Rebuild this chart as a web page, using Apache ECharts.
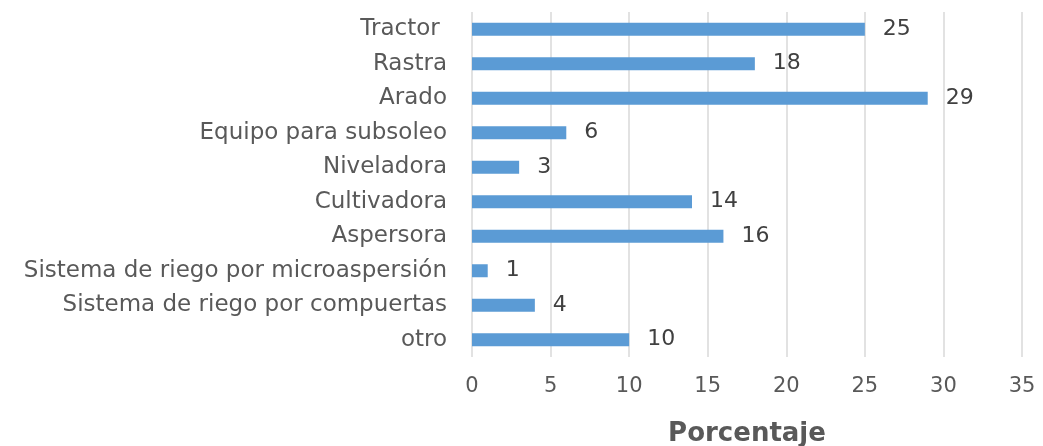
<!DOCTYPE html>
<html>
<head>
    <meta charset="utf-8">
    <title>Porcentaje</title>
    <script src="https://cdn.jsdelivr.net/npm/echarts@6/dist/echarts.min.js"></script>
    <style>
        html, body { margin: 0; padding: 0; background: #fff; }
        #main { width: 1043px; height: 446px; }
    </style>
</head>
<body>
<div id="main"></div>
<script type="text/javascript">
    // categorias (de arriba hacia abajo)
    var categorias = ['Tractor ', 'Rastra', 'Arado', 'Equipo para subsoleo', 'Niveladora',
        'Cultivadora', 'Aspersora', 'Sistema de riego por microaspersión',
        'Sistema de riego por compuertas', 'otro'];
    var porcentaje = [25, 18, 29, 6, 3, 14, 16, 1, 4, 10];
    var ticks = [0, 5, 10, 15, 20, 25, 30, 35];

    var myChart = echarts.init(document.getElementById('main'));
    var fuente = 'DejaVu Sans';

    var option = {
        animation: false,
        grid: {
            left: 472,
            right: 21,
            top: 12,
            bottom: 89,
            outerBoundsMode: 'none'
        },
        xAxis: {
            type: 'value',
            min: ticks[0],
            max: ticks[ticks.length - 1],
            interval: 5,
            name: 'Porcentaje',
            nameLocation: 'middle',
            nameGap: 64,
            nameTextStyle: { fontFamily: fuente, fontSize: 26, fontWeight: 'bold', color: '#595959' },
            axisLine: { show: false },
            axisTick: { show: false },
            axisLabel: { fontFamily: fuente, fontSize: 21, color: '#595959', margin: 19 },
            splitLine: { show: true, lineStyle: { color: '#d9d9d9', width: 1.5 } }
        },
        yAxis: {
            type: 'category',
            data: categorias,
            inverse: true,
            axisLine: { show: false },
            axisTick: { show: false },
            axisLabel: { fontFamily: fuente, fontSize: 23, color: '#595959', margin: 25 }
        },
        series: [{
            name: 'Porcentaje',
            type: 'bar',
            data: porcentaje,
            barWidth: 13,
            itemStyle: { color: '#5b9bd5' },
            label: {
                show: true,
                position: 'right',
                distance: 18,
                fontFamily: fuente,
                fontSize: 22,
                color: '#404040'
            }
        }]
    };

    myChart.setOption(option);
</script>
</body>
</html>
